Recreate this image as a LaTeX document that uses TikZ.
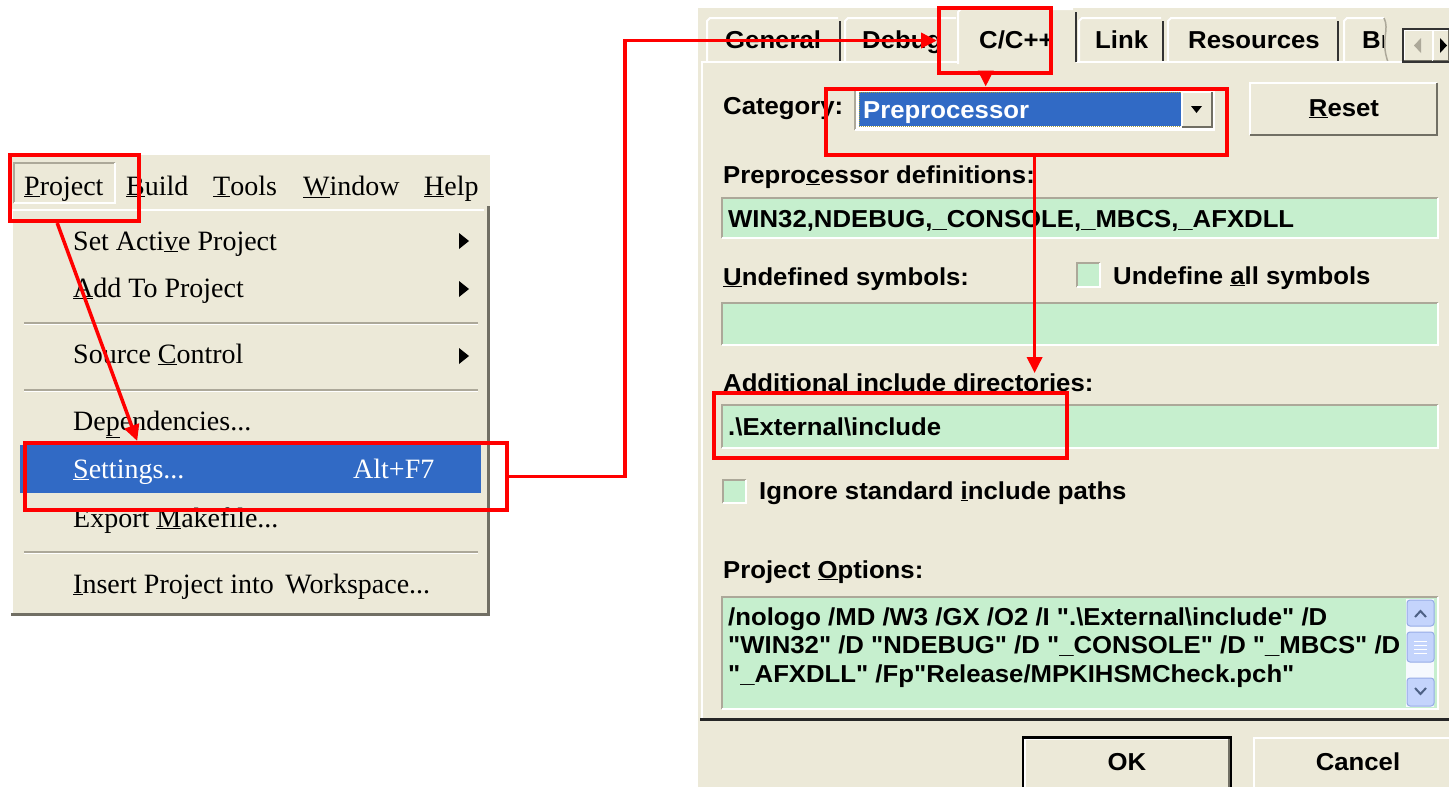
\documentclass[tikz,border=0pt]{standalone}
\usepackage{fontspec}
\setmainfont{Liberation Serif}
\newfontfamily\dlgfont[FakeStretch=1.05]{Liberation Sans}
\usetikzlibrary{arrows.meta,calc}

\definecolor{xpface}{RGB}{236,233,216}
\definecolor{xpblue}{RGB}{49,106,197}
\definecolor{fieldgreen}{RGB}{198,239,206}
\definecolor{xpshadow}{RGB}{172,168,153}
\definecolor{xpdark}{RGB}{113,111,100}
\definecolor{scrollblue}{RGB}{196,212,252}
\definecolor{scrolledge}{RGB}{150,172,230}
\definecolor{scrollglyph}{RGB}{77,97,133}
\definecolor{callred}{RGB}{255,0,0}

% accelerator letter
\newcommand\acc[1]{\underline{#1}}

% sunken edit field: x1 y1 x2 y2 fill
\newcommand\sunkenfield[5]{%
  \fill[#5] (#1,#2) rectangle (#3,#4);
  \draw[bevelshadow] (#1,#4) -- (#1,#2) -- (#3,#2);
  \draw[bevellit] (#3,#2) -- (#3,#4) -- (#1,#4);}

% raised push button: x1 y1 x2 y2
\newcommand\raisedbutton[4]{%
  \fill[xpface] (#1,#2) rectangle (#3,#4);
  \draw[bevellit] (#1,#4) -- (#1,#2) -- (#3,#2);
  \draw[beveldark] (#3,#2) -- (#3,#4) -- (#1,#4);}

% property sheet tab: left right top bottom
\newcommand\sheettab[4]{%
  \fill[xpface] (#1,#4) -- (#1,#3+3) -- (#1+3,#3) -- (#2-3,#3) -- (#2,#3+3) -- (#2,#4) -- cycle;
  \draw[bevellit] (#1,#4) -- (#1,#3+3) -- (#1+3,#3) -- (#2-2,#3);
  \draw[tabedge] (#2,#3+3) -- (#2,#4);}

\begin{document}
\begin{tikzpicture}[x=1pt,y=-1pt,
  menutext/.style={anchor=base west,inner sep=0pt,font=\fontsize{28}{32}\selectfont},
  dlgtext/.style={anchor=base west,inner sep=0pt,font=\dlgfont\bfseries\fontsize{24.5}{28}\selectfont},
  dlgcenter/.style={dlgtext,anchor=base},
  callout/.style={draw=callred,line width=4pt,inner sep=0pt},
  flow/.style={draw=callred,line width=3.5pt,-{Triangle[length=16pt,width=15pt]}},
  bevellit/.style={white,line width=2pt},
  bevelshadow/.style={xpshadow,line width=2pt},
  beveldark/.style={xpdark,line width=2pt},
  tabedge/.style={black!80,line width=2.5pt},
]
\useasboundingbox (0,0) rectangle (1449,787);
\fill[white] (0,0) rectangle (1449,787);

% ---------------- Project menu ----------------
\fill[xpface] (10,155) rectangle (490,212);
\fill[xpface] (11,208) rectangle (490,616);
\draw[bevellit,line width=1.5pt] (12,614) -- (12,210) -- (484,210);
\draw[xpdark,line width=3pt] (488,206) -- (488,614) -- (11,614);
% pressed "Project" item in the bar
\draw[bevelshadow,line width=1.5pt] (14,203) -- (14,163) -- (115,163);
\draw[bevellit,line width=1.5pt] (115,163) -- (115,203) -- (14,203);

\node[menutext] (mProject) at (24,195) {\acc{P}roject};
\node[menutext] (mBuild)   at (126,195) {\acc{B}uild};
\node[menutext] (mTools)   at (213,195) {\acc{T}ools};
\node[menutext] (mWindow)  at (303,195) {\acc{W}indow};
\node[menutext] (mHelp)    at (424,195) {\acc{H}elp};

% separators
\foreach \sy in {323,390,552}{
  \draw[xpshadow,line width=1.5pt] (24,\sy) -- (478,\sy);
  \draw[white,line width=1.5pt] (24,\sy+1.5) -- (478,\sy+1.5);
}
% highlighted item
\fill[xpblue] (20,445) rectangle (481,493);

\node[menutext] (iActive) at (73,250) {Set Acti\acc{v}e Project};
\node[menutext] (iAdd)    at (73,297) {\acc{A}dd To Project};
\node[menutext] (iSource) at (73,363) {Source \acc{C}ontrol};
\node[menutext] (iDep)    at (73,430) {De\acc{p}endencies...};
\node[menutext,text=white] (iSet)    at (73,478) {\acc{S}ettings...};
\node[menutext,text=white] (iSetKey) at (353,478) {Alt+F7};
\node[menutext] (iExport) at (73,527) {Export \acc{M}akefile...};
\node[menutext] (iInsert) at (73,593) {\acc{I}nsert Project into\, Workspace...};

% submenu arrows
\foreach \ay in {241,289,356}{
  \fill (459,\ay-8) -- (469,\ay) -- (459,\ay+8) -- cycle;
}

% ---------------- Settings dialog ----------------
\fill[xpface] (698,8) rectangle (1449,787);

% tabs
\sheettab{707}{840}{18}{62}
\sheettab{845}{958}{18}{62}
\sheettab{1079}{1163}{18}{62}
\sheettab{1168}{1338}{18}{62}
\fill[xpface] (1344,18) rectangle (1386,62);
\draw[bevellit] (1344,62) -- (1344,21) -- (1347,18) -- (1384,18);
\draw[xpshadow,line width=1.5pt] (1384,18) .. controls (1390,30) and (1380,40) .. (1388,62);

% page border
\draw[bevellit] (702,718) -- (702,62) -- (1449,62);
\draw[black!85,line width=2.5pt] (700,719.5) -- (1449,719.5);

% selected tab
\fill[xpface] (958,9) rectangle (1076,64);
\draw[bevellit] (958,64) -- (958,12) -- (961,9) -- (1073,9);
\draw[tabedge] (1076,12) -- (1076,62);

\node[dlgtext] (tGeneral) at (725,48) {General};
\node[dlgtext] (tDebug)   at (862,48) {Debug};
\node[dlgtext] (tCpp)     at (979,48) {C/C++};
\node[dlgtext] (tLink)    at (1095,48) {Link};
\node[dlgtext] (tRes)     at (1188,48) {Resources};
\begin{scope}
  \clip (1344,10) rectangle (1383,62);
  \node[dlgtext] (tBrowse) at (1362,48) {Br};
\end{scope}

% tab scroll buttons
\raisedbutton{1404}{30}{1433}{61}
\raisedbutton{1433}{30}{1449}{61}
\draw[black!80,line width=1.5pt] (1403,29) rectangle (1460,62);
\fill[xpshadow] (1421,38) -- (1414,45.5) -- (1421,53) -- cycle;
\fill (1440,38) -- (1447,45.5) -- (1440,53) -- cycle;

% category row
\node[dlgtext] (catLabel) at (723,114) {Category:};
\sunkenfield{855}{88}{1214}{130}{white}
\fill[xpblue] (859,92) rectangle (1181,126);
\draw[densely dotted,yellow!60!black,line width=1pt] (859,92) rectangle (1181,126);
\node[dlgtext,text=white] (catValue) at (863,118) {Preprocessor};
\raisedbutton{1182}{92}{1212}{127}
\fill (1191,106) -- (1202,106) -- (1196.5,113) -- cycle;

\raisedbutton{1250}{83}{1437}{135}
\node[dlgcenter] (resetBtn) at (1344,116) {\acc{R}eset};

% preprocessor definitions
\node[dlgtext] (ppLabel) at (723,183) {Prepro\acc{c}essor definitions:};
\sunkenfield{722}{198}{1438}{238}{fieldgreen}
\node[dlgtext] (ppValue) at (728,227) {WIN32,NDEBUG,\_CONSOLE,\_MBCS,\_AFXDLL};

% undefined symbols
\node[dlgtext] (udLabel) at (723,285) {\acc{U}ndefined symbols:};
\sunkenfield{1077}{263}{1100}{287}{fieldgreen}
\node[dlgtext] (udAll) at (1113,284) {Undefine \acc{a}ll symbols};
\sunkenfield{722}{303}{1438}{345}{fieldgreen}

% additional include directories
\node[dlgtext] (incLabel) at (723,391) {Additional include directories:};
\sunkenfield{722}{405}{1438}{448}{fieldgreen}
\node[dlgtext] (incValue) at (728,435) {.\textbackslash External\textbackslash include};

% ignore standard paths
\sunkenfield{723}{480}{746}{503}{fieldgreen}
\node[dlgtext] (ignLabel) at (759,499) {Ignore standard \acc{i}nclude paths};

% project options
\node[dlgtext] (optLabel) at (723,578) {Project \acc{O}ptions:};
\sunkenfield{722}{597}{1438}{709}{fieldgreen}
\node[dlgtext] (opt1) at (728,625) {/nologo /MD /W3 /GX /O2 /I ".\textbackslash External\textbackslash include" /D};
\node[dlgtext] (opt2) at (728,653) {"WIN32" /D "NDEBUG" /D "\_CONSOLE" /D "\_MBCS" /D};
\node[dlgtext] (opt3) at (728,682) {"\_AFXDLL" /Fp"Release/MPKIHSMCheck.pch"};

% vertical scroll bar
\fill[white!85!scrollblue] (1406,599) rectangle (1434,707);
\filldraw[fill=scrollblue,draw=scrolledge,line width=1pt,rounded corners=3pt] (1407,600) rectangle (1434,626);
\draw[scrollglyph,line width=2pt] (1415,617) -- (1420.5,611) -- (1426,617);
\filldraw[fill=scrollblue,draw=scrolledge,line width=1pt,rounded corners=3pt] (1407,632) rectangle (1434,662);
\foreach \gy in {641,645,649,653}{\draw[white,line width=1pt] (1414,\gy) -- (1427,\gy);}
\filldraw[fill=scrollblue,draw=scrolledge,line width=1pt,rounded corners=3pt] (1407,678) rectangle (1434,706);
\draw[scrollglyph,line width=2pt] (1415,688) -- (1420.5,694) -- (1426,688);

% dialog buttons
\raisedbutton{1025}{739}{1229}{795}
\draw[black,line width=2.5pt] (1023,737.5) rectangle (1231,800);
\node[dlgcenter] (okBtn) at (1127,770) {OK};
\raisedbutton{1254}{738}{1460}{795}
\node[dlgcenter] (cancelBtn) at (1358,770) {Cancel};

% ---------------- call-outs ----------------
\node[callout,minimum width=129pt,minimum height=66pt] (pbox) at (74.5,188) {};
\node[callout,minimum width=482pt,minimum height=67pt] (sbox) at (266,476.5) {};
\node[callout,minimum width=112pt,minimum height=65pt] (cbox) at (995,40.5) {};
\node[callout,minimum width=401pt,minimum height=66pt] (prebox) at (1026.5,121.5) {};
\node[callout,minimum width=353pt,minimum height=65pt] (incbox) at (890.5,425.5) {};

\draw[flow] ($(pbox.south west)!0.37!(pbox.south east)$) -- ($(sbox.north west)!0.235!(sbox.north east)$);
\draw[flow] (sbox.east) -- ++(116,0) |- (cbox.west);
\draw[flow] ($(cbox.south west)!0.42!(cbox.south east)$) coordinate (c3) -- (c3 |- prebox.north);
\draw[flow] ($(prebox.south west)!0.52!(prebox.south east)$) coordinate (c4) -- (c4 |- incLabel.north);
\end{tikzpicture}
\end{document}
